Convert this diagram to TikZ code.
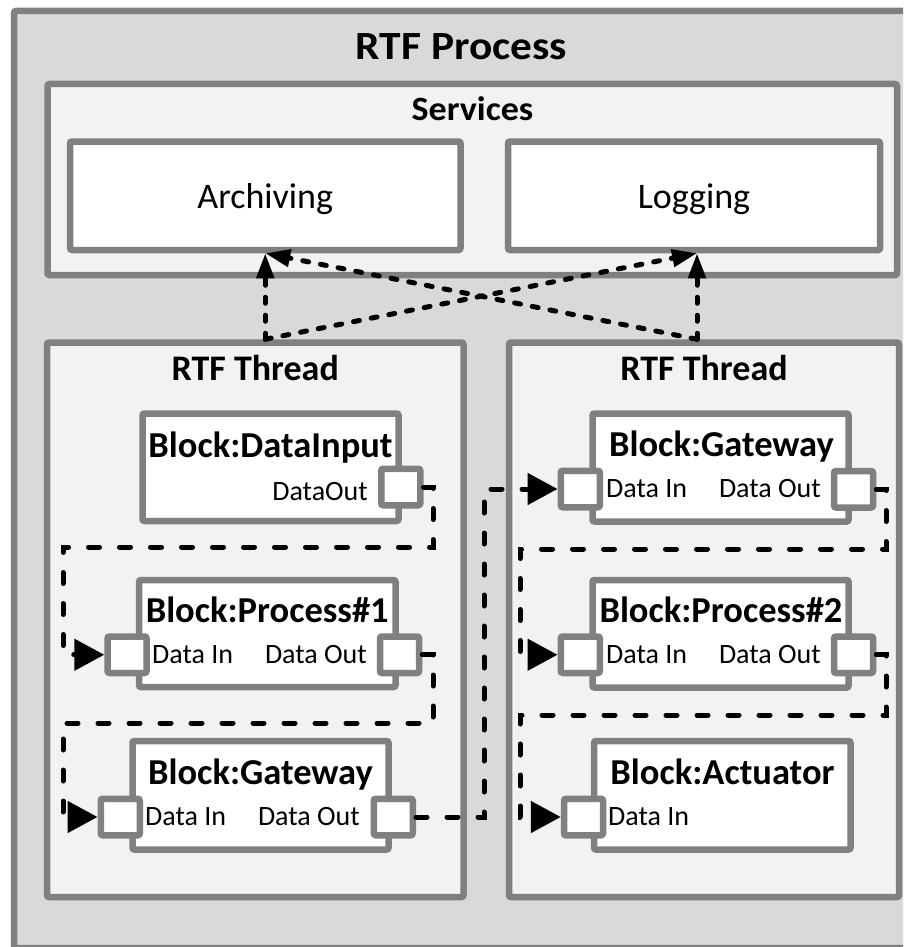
\documentclass[tikz,border=0pt]{standalone}
\usepackage{fontspec}
\setmainfont{Carlito}
\usetikzlibrary{arrows.meta}

\definecolor{edgegray}{RGB}{128,128,128}
\definecolor{outerfill}{RGB}{217,217,217}
\definecolor{panelfill}{RGB}{242,242,242}

\newcommand\fsz[1]{\fontsize{#1}{#1}\selectfont}

\tikzset{
  frame/.style={draw=edgegray, line width=6.5pt, rounded corners=2pt, inner sep=0pt},
  outerbox/.style={frame, fill=outerfill},
  panel/.style={frame, fill=panelfill},
  blockbox/.style={frame, fill=white},
  port/.style={frame, fill=white, minimum width=39pt, minimum height=36.5pt},
  heading/.style={inner sep=0pt, anchor=base, font=\bfseries\fsz{36}},
  blocktitle/.style={inner sep=0pt, anchor=base, font=\bfseries\fsz{36.5}},
  servicelabel/.style={inner sep=0pt, anchor=base, font=\fsz{36}},
  portlabel/.style={inner sep=0pt, font=\fsz{28}},
  flow/.style={line width=5pt, line cap=round, dash pattern=on 11pt off 20pt,
    -{Triangle[length=30pt,width=31pt]}},
  svc/.style={line width=5pt, line cap=round, dash pattern=on 6pt off 12pt,
    -{Triangle[length=25pt,width=17pt]}},
}

\begin{document}
\begin{tikzpicture}[x=1pt,y=-1pt]
\clip (0,0) rectangle (903,947);

% containers
\node[outerbox, minimum width=916pt, minimum height=937pt] (proc) at (472,479.5) {};
\node[panel, minimum width=849.5pt, minimum height=191pt] (services) at (472.25,179.5) {};
\node[blockbox, minimum width=390.5pt, minimum height=108.5pt] (arch) at (265.25,195.75) {};
\node[blockbox, minimum width=372pt, minimum height=108.5pt] (log) at (694,195.75) {};
\node[panel, minimum width=416.5pt, minimum height=554.5pt] (lthr) at (255.25,619.75) {};
\node[panel, minimum width=390pt, minimum height=554.5pt] (rthr) at (704,619.75) {};

% blocks
\node[blockbox, minimum width=256pt, minimum height=107.5pt] (din) at (270.5,467.25) {};
\node[blockbox, minimum width=256.5pt, minimum height=107pt] (p1) at (267.25,633.5) {};
\node[blockbox, minimum width=256pt, minimum height=108.5pt] (gwL) at (260.5,795.25) {};
\node[blockbox, minimum width=256pt, minimum height=108pt] (gwR) at (720.5,467.5) {};
\node[blockbox, minimum width=256pt, minimum height=107.5pt] (p2) at (720.5,633.75) {};
\node[blockbox, minimum width=256.5pt, minimum height=108.5pt] (act) at (722.25,795.25) {};

% ports
\node[port] (dinOut) at (400.75,487) {};
\node[port] (p1In) at (127,654.75) {};
\node[port] (p1Out) at (399.5,654.75) {};
\node[port] (gwLIn) at (120.25,817) {};
\node[port] (gwLOut) at (393.25,817) {};
\node[port] (gwRIn) at (580.25,489) {};
\node[port] (gwROut) at (853.5,489.25) {};
\node[port] (p2In) at (580.25,654.75) {};
\node[port] (p2Out) at (853.5,654.75) {};
\node[port] (actIn) at (583.5,817) {};

% headings
\node[inner sep=0pt, anchor=base, font=\bfseries\fsz{40}] (tProc) at (461.5,59.5) {\scalebox{1.085}[1]{RTF Process}};
\node[inner sep=0pt, anchor=base, font=\bfseries\fsz{34}] (tServ) at (472.5,121) {\scalebox{1.06}[1]{Services}};
\node[servicelabel] (tArch) at (265.25,208) {Archiving};
\node[servicelabel] (tLog) at (694,208) {Logging};
\node[heading] (tLthr) at (255.25,380) {RTF Thread};
\node[heading] (tRthr) at (704,380) {RTF Thread};
\node[blocktitle] (tDin) at (270.5,457) {Block:DataInput};
\node[blocktitle] (tP1) at (267.25,622) {Block:Process\#1};
\node[blocktitle] (tGwL) at (260.5,784) {Block:Gateway};
\node[blocktitle] (tGwR) at (721.5,456) {Block:Gateway};
\node[blocktitle] (tP2) at (721,622) {Block:Process\#2};
\node[blocktitle] (tAct) at (722.5,784) {Block:Actuator};

% port labels
\node[portlabel, anchor=base east] (lDinOut) at (368,500) {DataOut};
\node[portlabel, anchor=base west] (lP1In) at (152,663) {Data In};
\node[portlabel, anchor=base east] (lP1Out) at (367,663) {Data Out};
\node[portlabel, anchor=base west] (lGwLIn) at (145,825) {Data In};
\node[portlabel, anchor=base east] (lGwLOut) at (360,825) {Data Out};
\node[portlabel, anchor=base west] (lGwRIn) at (606,497) {Data In};
\node[portlabel, anchor=base east] (lGwROut) at (821,497) {Data Out};
\node[portlabel, anchor=base west] (lP2In) at (606,663) {Data In};
\node[portlabel, anchor=base east] (lP2Out) at (821,663) {Data Out};
\node[portlabel, anchor=base west] (lActIn) at (608,825) {Data In};

% data flow between blocks
\draw[flow] (dinOut.east) -- (433,487) -- (433,547) -- (63,547) -- (63,654.75) -- (p1In.west);
\draw[flow] (p1Out.east) -- (433,654.75) -- (433,723) -- (63,723) -- (63,817) -- (gwLIn.west);
\draw[flow] (gwLOut.east) -- (484,817) -- (484,489) -- (gwRIn.west);
\draw[flow] (gwROut.east) -- (886,489.25) -- (886,549) -- (520,549) -- (520,654.75) -- (p2In.west);
\draw[flow] (p2Out.east) -- (886,654.75) -- (886,715) -- (520,715) -- (520,817) -- (actIn.west);

% threads reporting to the services
\coordinate (logTip) at ([xshift=3pt]log.south);
\draw[svc] (arch.south |- lthr.north) -- (arch.south);
\draw[svc] (arch.south |- lthr.north) -- (logTip);
\draw[svc] (logTip |- rthr.north) -- (logTip);
\draw[svc] (logTip |- rthr.north) -- (arch.south);
\end{tikzpicture}
\end{document}
